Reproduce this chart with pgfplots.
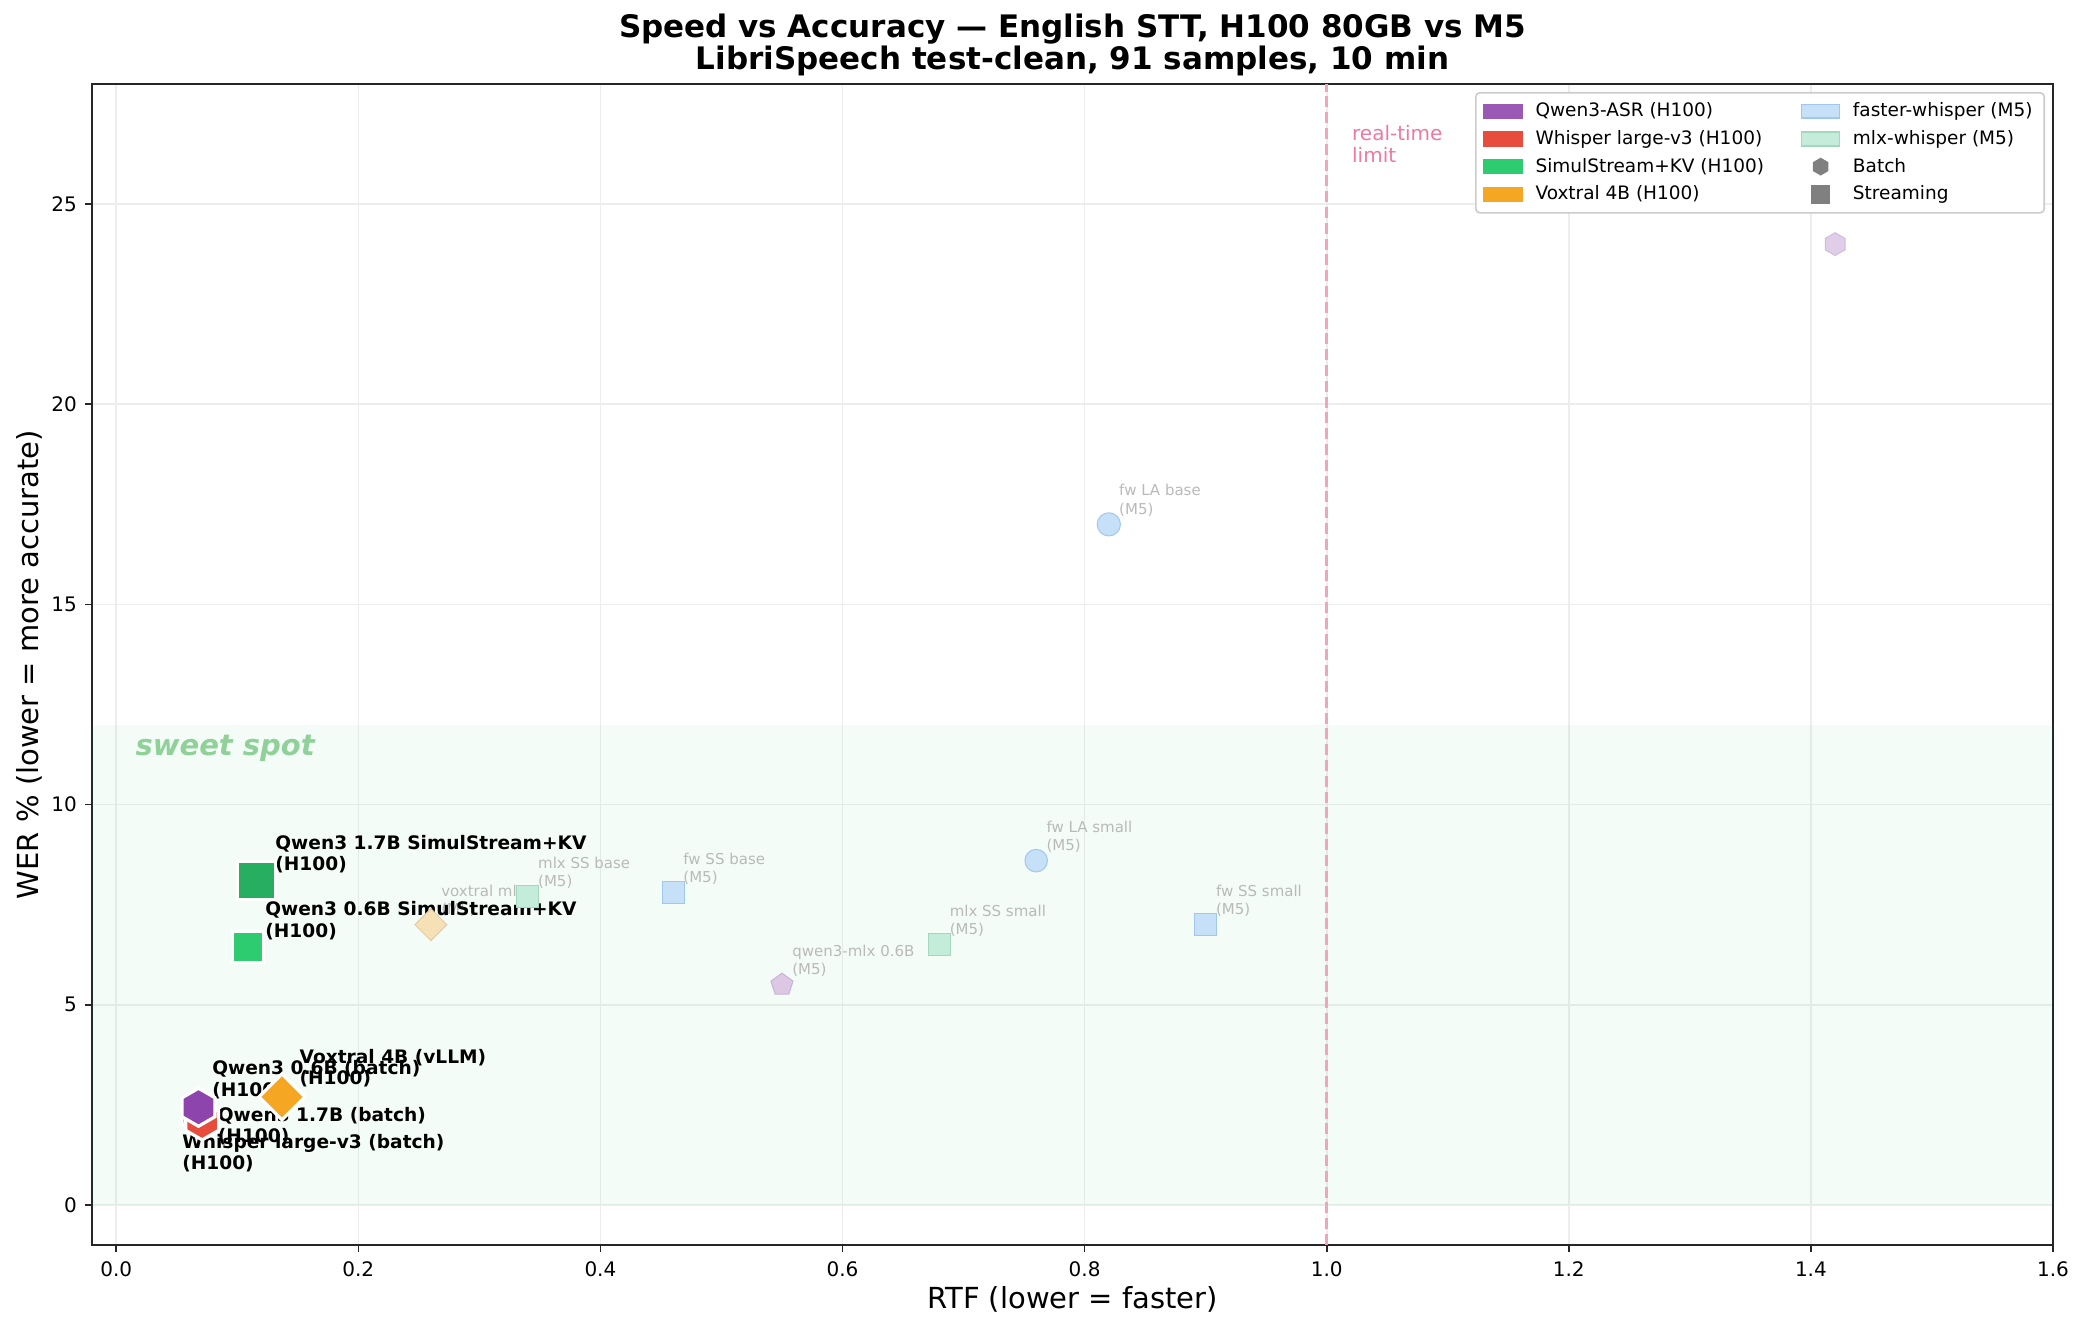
\documentclass[border=0pt]{standalone}
\usepackage{fontspec}
\setmainfont{DejaVu Sans}
\usepackage{pgfplots}
\pgfplotsset{compat=1.18}
\usetikzlibrary{plotmarks}

\pgfdeclareplotmark{hexa}{%
  \pgfpathmoveto{\pgfpointpolar{90}{\pgfplotmarksize}}%
  \pgfpathlineto{\pgfpointpolar{150}{\pgfplotmarksize}}%
  \pgfpathlineto{\pgfpointpolar{210}{\pgfplotmarksize}}%
  \pgfpathlineto{\pgfpointpolar{270}{\pgfplotmarksize}}%
  \pgfpathlineto{\pgfpointpolar{330}{\pgfplotmarksize}}%
  \pgfpathlineto{\pgfpointpolar{30}{\pgfplotmarksize}}%
  \pgfpathclose\pgfusepathqfillstroke}
\pgfdeclareplotmark{dia}{%
  \pgfpathmoveto{\pgfpoint{0pt}{\pgfplotmarksize}}%
  \pgfpathlineto{\pgfpoint{\pgfplotmarksize}{0pt}}%
  \pgfpathlineto{\pgfpoint{0pt}{-\pgfplotmarksize}}%
  \pgfpathlineto{\pgfpoint{-\pgfplotmarksize}{0pt}}%
  \pgfpathclose\pgfusepathqfillstroke}

\definecolor{qpurple}{HTML}{8E44AD}
\definecolor{lpurple}{HTML}{9B59B6}
\definecolor{wred}{HTML}{E74C3C}
\definecolor{sgreen}{HTML}{2ECC71}
\definecolor{sdgreen}{HTML}{27AE60}
\definecolor{vorange}{HTML}{F5A623}
\definecolor{fwfill}{RGB}{198,224,248}
\definecolor{fwedge}{RGB}{160,200,236}
\definecolor{mxfill}{RGB}{196,236,218}
\definecolor{mxedge}{RGB}{165,215,190}
\definecolor{qmfill}{RGB}{220,200,228}
\definecolor{qmedge}{RGB}{200,178,214}
\definecolor{vmfill}{RGB}{246,224,182}
\definecolor{vmedge}{RGB}{226,204,165}
\definecolor{hxfill}{RGB}{224,205,231}
\definecolor{hxedge}{RGB}{208,188,220}
\definecolor{lblgray}{RGB}{185,185,185}
\definecolor{rtpink}{RGB}{240,164,190}
\definecolor{rttext}{RGB}{238,120,160}
\definecolor{sweet}{RGB}{143,209,152}
\definecolor{spine}{RGB}{38,38,38}
\definecolor{legframe}{RGB}{204,204,204}
\definecolor{leggray}{RGB}{128,128,128}

\pgfplotsset{
  patchleg/.style={legend image code/.code={\draw[##1, sharp corners] (0pt,-3.4pt) rectangle (19pt,3.4pt);}},
  markleg/.style={legend image code/.code={\draw[##1, sharp corners] plot coordinates {(9.5pt,0pt)};}},
}

\newcommand{\blab}[4]{%
  \node[anchor=base west, inner sep=0pt, font=\bfseries\fontsize{9.3}{11}\selectfont] at (axis cs:#1,#2) {#3};
  \node[anchor=base west, inner sep=0pt, yshift=-10.6pt, font=\bfseries\fontsize{9.3}{11}\selectfont] at (axis cs:#1,#2) {#4};}
\newcommand{\mlab}[3]{%
  \node[anchor=south west, inner sep=0pt, xshift=5pt, yshift=3.8pt, align=left, text=lblgray, font=\fontsize{7.5}{9.2}\selectfont] at (axis cs:#1,#2) {#3\\(M5)};}

\begin{document}
\begin{tikzpicture}
\path[use as bounding box] (-46pt,-43pt) rectangle (996pt,622.5pt);
\begin{axis}[
  name=ax, at={(0,0)}, anchor=south west, scale only axis,
  width=980.5pt, height=580.5pt,
  xmin=-0.02, xmax=1.6, ymin=-1, ymax=28,
  xtick={0,0.2,0.4,0.6,0.8,1.0,1.2,1.4,1.6},
  xticklabels={0.0,0.2,0.4,0.6,0.8,1.0,1.2,1.4,1.6},
  ytick={0,5,10,15,20,25},
  xtick pos=bottom, ytick pos=left,
  /pgf/number format/assume math mode=true,
  tick label style={font=\fontsize{10}{12}\selectfont, inner sep=0pt},
  xticklabel style={anchor=north, yshift=-4.85pt},
  yticklabel style={anchor=east, xshift=-3.85pt},
  tick align=outside, major tick length=3.5pt,
  tick style={line width=0.8pt, spine},
  axis line style={line width=1pt, spine},
  grid=major, grid style={line width=0.8pt, black!7},
  legend columns=2, legend cell align=left,
  legend style={at={(1,1)}, anchor=north east, xshift=-4pt, yshift=-4pt,
    draw=legframe, line width=0.8pt, rounded corners=2pt, fill=white,
    inner xsep=3.8pt, inner ysep=3pt, row sep=1.3pt,
    font=\fontsize{9.25}{11}\selectfont,
    /tikz/every even column/.append style={column sep=16.4pt},
    /tikz/every odd column/.append style={column sep=4.25pt}},
]
% sweet spot band
\addplot[forget plot, draw=none, fill=sgreen, fill opacity=0.05] coordinates {(-0.1,0) (1.7,0) (1.7,12) (-0.1,12)} -- cycle;
% real-time limit
\addplot[forget plot, rtpink, line width=1.5pt, dash pattern=on 5.5pt off 2.4pt] coordinates {(1,-1) (1,28)};

% M5 (faded)
\addplot[forget plot, only marks, mark=*, mark size=5.8pt, mark options={fill=fwfill, draw=fwedge, line width=0.5pt}] coordinates {(0.82,17.0)};
\addplot[forget plot, only marks, mark=*, mark size=5.65pt, mark options={fill=fwfill, draw=fwedge, line width=0.5pt}] coordinates {(0.76,8.6)};
\addplot[forget plot, only marks, mark=square*, mark size=5.5pt, mark options={fill=fwfill, draw=fwedge, line width=0.5pt}] coordinates {(0.46,7.8) (0.90,7.0)};
\addplot[forget plot, only marks, mark=square*, mark size=5.5pt, mark options={fill=mxfill, draw=mxedge, line width=0.5pt}] coordinates {(0.34,7.7) (0.68,6.5)};
\addplot[forget plot, only marks, mark=pentagon*, mark size=5.8pt, mark options={fill=qmfill, draw=qmedge, line width=0.5pt}] coordinates {(0.55,5.5)};
\addplot[forget plot, only marks, mark=dia, mark size=8pt, mark options={fill=vmfill, draw=vmedge, line width=0.5pt}] coordinates {(0.26,7.0)};
\addplot[forget plot, only marks, mark=hexa, mark size=5.7pt, mark options={fill=hxfill, draw=hxedge, line width=0.5pt}] coordinates {(1.42,24.0)};

\mlab{0.82}{17.0}{fw LA base}
\mlab{0.76}{8.6}{fw LA small}
\mlab{0.46}{7.8}{fw SS base}
\mlab{0.90}{7.0}{fw SS small}
\mlab{0.34}{7.7}{mlx SS base}
\mlab{0.68}{6.5}{mlx SS small}
\mlab{0.55}{5.5}{qwen3-mlx 0.6B}
\mlab{0.26}{7.0}{voxtral mlx}

% H100
\addplot[forget plot, only marks, mark=square*, mark size=9.4pt, mark options={fill=sdgreen, draw=white, line width=1.6pt}] coordinates {(0.116,8.1)};
\addplot[forget plot, only marks, mark=square*, mark size=7.75pt, mark options={fill=sgreen, draw=white, line width=1.6pt}] coordinates {(0.109,6.45)};
\addplot[forget plot, only marks, mark=hexa, mark size=9.5pt, mark options={fill=qpurple, draw=white, line width=1.6pt}] coordinates {(0.068,2.27)};
\addplot[forget plot, only marks, mark=hexa, mark size=9.5pt, mark options={fill=wred, draw=white, line width=1.6pt}] coordinates {(0.071,2.1)};
\addplot[forget plot, only marks, mark=hexa, mark size=9.5pt, mark options={fill=qpurple, draw=white, line width=1.6pt}] coordinates {(0.068,2.44)};
\addplot[forget plot, only marks, mark=dia, mark size=11.5pt, mark options={fill=vorange, draw=white, line width=1.6pt}] coordinates {(0.137,2.7)};

\blab{0.1312}{8.886}{Qwen3 1.7B SimulStream+KV}{(H100)}
\blab{0.1229}{7.220}{Qwen3 0.6B SimulStream+KV}{(H100)}
\blab{0.1512}{3.540}{Voxtral 4B (vLLM)}{(H100)}
\blab{0.0791}{3.248}{Qwen3 0.6B (batch)}{(H100)}
\blab{0.0837}{2.081}{Qwen3 1.7B (batch)}{(H100)}
\blab{0.0543}{1.416}{Whisper large-v3 (batch)}{(H100)}

\node[anchor=base west, inner sep=0pt, text=sweet, font=\bfseries\itshape\fontsize{14.5}{17}\selectfont] at (axis cs:0.0157,11.22) {sweet spot};
\node[anchor=base west, inner sep=0pt, text=rttext, font=\fontsize{10}{12}\selectfont] at (axis cs:1.0207,26.6) {real-time};
\node[anchor=base west, inner sep=0pt, yshift=-11.35pt, text=rttext, font=\fontsize{10}{12}\selectfont] at (axis cs:1.0207,26.6) {limit};

% legend (row-major order for two columns)
\addlegendimage{patchleg, lpurple, fill=lpurple}
\addlegendentry{Qwen3-ASR (H100)}
\addlegendimage{patchleg, fwedge, fill=fwfill, line width=0.8pt}
\addlegendentry{faster-whisper (M5)}
\addlegendimage{patchleg, wred, fill=wred}
\addlegendentry{Whisper large-v3 (H100)}
\addlegendimage{patchleg, mxedge, fill=mxfill, line width=0.8pt}
\addlegendentry{mlx-whisper (M5)}
\addlegendimage{patchleg, sgreen, fill=sgreen}
\addlegendentry{SimulStream+KV (H100)}
\addlegendimage{markleg, only marks, leggray, mark=hexa, mark size=4pt, mark options={leggray, fill=leggray}}
\addlegendentry{Batch}
\addlegendimage{patchleg, vorange, fill=vorange}
\addlegendentry{Voxtral 4B (H100)}
\addlegendimage{markleg, only marks, leggray, mark=square*, mark size=4.4pt, mark options={leggray, fill=leggray}}
\addlegendentry{Streaming}
\end{axis}

\node[anchor=base, inner sep=0pt, font=\bfseries\fontsize{15.5}{18.6}\selectfont] at ([yshift=23.1pt]ax.north) {Speed vs Accuracy — English STT, H100 80GB vs M5};
\node[anchor=base, inner sep=0pt, font=\bfseries\fontsize{15.5}{18.6}\selectfont] at ([yshift=7.3pt]ax.north) {LibriSpeech test-clean, 91 samples, 10 min};
\node[inner sep=0pt, font=\fontsize{14.5}{17.4}\selectfont] at ([yshift=-27pt]ax.south) {RTF (lower = faster)};
\node[inner sep=0pt, rotate=90, font=\fontsize{14.5}{17.4}\selectfont] at ([xshift=-31.5pt]ax.west) {WER \% (lower = more accurate)};
\end{tikzpicture}
\end{document}
